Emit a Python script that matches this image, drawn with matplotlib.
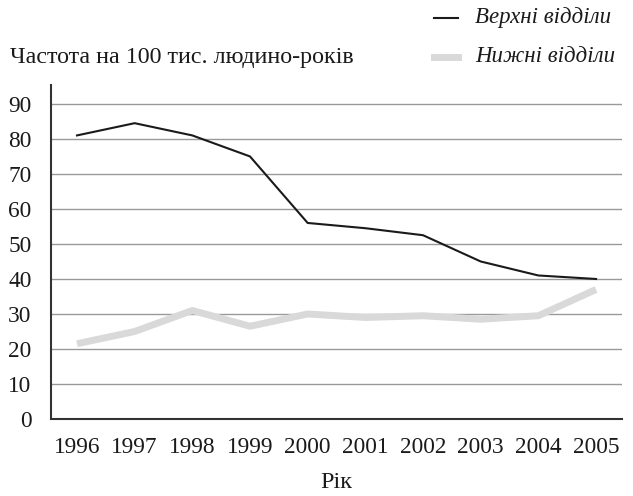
import matplotlib.pyplot as plt

roky = ['1996', '1997', '1998', '1999', '2000', '2001', '2002', '2003', '2004', '2005']
verkhni = [81, 84.5, 81, 75, 56, 54.5, 52.5, 45, 41, 40]
nyzhni = [21.5, 25, 31, 26.5, 30, 29, 29.5, 28.5, 29.5, 37]
y_ticks = [0, 10, 20, 30, 40, 50, 60, 70, 80, 90]

plt.rcParams['font.family'] = ['Liberation Serif', 'DejaVu Serif']

fig = plt.figure(figsize=(6.33, 4.96), dpi=100)
ax = fig.add_axes([0.0806, 0.1552, 0.902, 0.6734])

x = list(range(len(roky)))
ax.plot(x, verkhni, color='#1a1a1a', linewidth=1.5, zorder=3)
ax.plot(x, nyzhni, color='#d9d9d9', linewidth=5, zorder=2, solid_capstyle='butt')

ax.set_xlim(-0.45, 9.45)
ax.set_ylim(0, 95.4)
ax.set_yticks(y_ticks)
ax.set_xticks(x)
ax.set_xticklabels(roky)
ax.tick_params(axis='both', length=0, labelsize=16.8, colors='#1a1a1a')
ax.tick_params(axis='x', pad=13)
ax.tick_params(axis='y', pad=14)
ax.grid(axis='y', color='#999999', linewidth=1)
ax.set_axisbelow(True)

for side in ['top', 'right']:
    ax.spines[side].set_visible(False)
for side in ['left', 'bottom']:
    ax.spines[side].set_color('#333333')
    ax.spines[side].set_linewidth(1.5)

fig.text(336 / 633, 1 - 482 / 496, 'Рік', ha='center', va='center', fontsize=17.5, color='#1a1a1a')
fig.text(10 / 633, 1 - 57 / 496, 'Частота на 100 тис. людино-років', ha='left', va='center',
         fontsize=17.3, color='#1a1a1a')

# легенда вручну
fig.add_artist(plt.Line2D([434 / 633, 458 / 633], [1 - 18 / 496, 1 - 18 / 496], color='#1a1a1a', linewidth=1.5))
fig.add_artist(plt.Line2D([434 / 633, 458 / 633], [1 - 57 / 496, 1 - 57 / 496], color='#d9d9d9', linewidth=5))
fig.text(475 / 633, 1 - 18 / 496, 'Верхні відділи', ha='left', va='center', fontsize=16.5,
         style='italic', color='#1a1a1a')
fig.text(475 / 633, 1 - 57 / 496, 'Нижні відділи', ha='left', va='center', fontsize=16.5,
         style='italic', color='#1a1a1a')

fig.savefig('out.png', dpi=100)
